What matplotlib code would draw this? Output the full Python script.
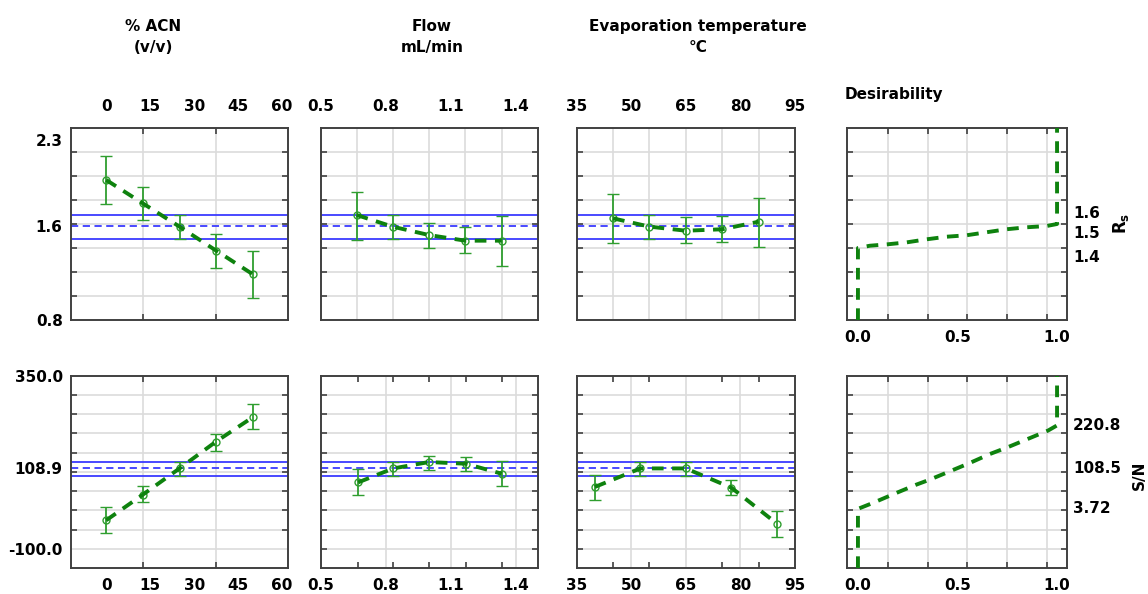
import matplotlib
matplotlib.use("Agg")
import matplotlib.pyplot as plt

plt.rcParams['font.family'] = ['DejaVu Sans']
plt.rcParams['font.weight'] = 'bold'
plt.rcParams['font.size'] = 11
plt.rcParams['mathtext.fontset'] = 'custom'
plt.rcParams['mathtext.rm'] = 'DejaVu Sans:bold'
plt.rcParams['mathtext.bf'] = 'DejaVu Sans:bold'

# factor levels
acn_x = [0, 12.5, 25, 37.5, 50]
flow_x_rs = [0.666, 0.832, 1.0, 1.168, 1.336]
flow_x_sn = [0.673, 0.835, 1.0, 1.17, 1.336]
temp_x_rs = [45, 55, 65, 75, 85]
temp_x_sn = [40, 52.5, 65, 77.5, 90]

# Rs profiles (mean, lower, upper)
rs_acn = [1.967, 1.772, 1.578, 1.378, 1.181]
rs_acn_lo = [1.767, 1.633, 1.472, 1.236, 0.981]
rs_acn_hi = [2.167, 1.911, 1.675, 1.514, 1.378]
rs_flow = [1.675, 1.578, 1.508, 1.461, 1.461]
rs_flow_lo = [1.467, 1.472, 1.403, 1.361, 1.25]
rs_flow_hi = [1.869, 1.675, 1.611, 1.578, 1.667]
rs_temp = [1.647, 1.578, 1.544, 1.556, 1.619]
rs_temp_lo = [1.444, 1.472, 1.444, 1.453, 1.411]
rs_temp_hi = [1.85, 1.675, 1.656, 1.667, 1.819]

# S/N profiles (mean, lower, upper)
sn_acn = [-25.9, 40.7, 108.9, 178.9, 242.1]
sn_acn_lo = [-58.5, 20.8, 90, 154.8, 211]
sn_acn_hi = [7.8, 64.1, 124.5, 198.9, 275.8]
sn_flow = [72.6, 108.9, 125.5, 121.1, 95.2]
sn_flow_lo = [40.7, 90, 105.5, 101.1, 62.3]
sn_flow_hi = [107.4, 124.5, 140, 137.4, 128.9]
sn_temp = [60.7, 108.9, 108.9, 58.9, -34.4]
sn_temp_lo = [27.8, 90, 90, 40.7, -68.9]
sn_temp_hi = [92.6, 124.5, 124.5, 77.8, -2.5]

# predicted value at current settings and its interval
rs_pred, rs_pred_lo, rs_pred_hi = 1.58, 1.475, 1.675
sn_pred, sn_pred_lo, sn_pred_hi = 108.9, 90, 125.5

# desirability functions
d_rs = [0, 0, 0.06, 0.15, 0.245, 0.345, 0.445, 0.545, 0.645, 0.745, 0.846, 0.947, 1.0, 1.0]
rs_d = [0.8, 1.4, 1.419, 1.431, 1.447, 1.4725, 1.494, 1.506, 1.531, 1.556, 1.5725, 1.583, 1.6, 2.4]
d_sn = [0, 0, 0.075, 0.193, 0.293, 0.36, 0.469, 0.561, 0.662, 0.754, 0.863, 0.955, 1.0, 1.0]
sn_d = [-150, 3.72, 19.2, 45.2, 66.7, 79.6, 103, 122.9, 146.2, 164.4, 187.7, 207.4, 220.8, 350]
rs_d_labels = ['1.6', '1.5', '1.4']
rs_d_values = [1.6, 1.5, 1.4]
sn_d_labels = ['220.8', '108.5', '3.72']
sn_d_values = [220.8, 108.5, 3.72]

headers = ['% ACN\n(v/v)', 'Flow\nmL/min', 'Evaporation temperature\n°C']

W, H = 1148, 594
fig = plt.figure(figsize=(W / 100, H / 100), dpi=100)

cols = [(71, 288), (320.7, 538.3), (576.7, 795), (847, 1067)]
rows = [(128, 320), (375.7, 568)]

GREEN = '#2f9e2f'
DKGREEN = '#0e820e'
BLUE = '#3a3aff'
GRID = '#dcdcdc'
SPINE = '#404040'
DASH = (0, (3, 2.2))


def make_ax(c, r):
    x0, x1 = cols[c]
    y0, y1 = rows[r]
    return fig.add_axes([x0 / W, 1 - y1 / H, (x1 - x0) / W, (y1 - y0) / H])


def frame(ax, xlim, ylim, xgrid, xmarks, ygrid):
    ax.set_xlim(xlim)
    ax.set_ylim(ylim)
    for g in xgrid:
        ax.axvline(g, color=GRID, lw=1.2, zorder=0)
    for g in ygrid:
        ax.axhline(g, color=GRID, lw=1.2, zorder=0)
    ax.set_xticks(xmarks, minor=True)
    ax.set_yticks(ygrid, minor=True)
    ax.tick_params(which='minor', direction='in', length=4, width=1.2, color=SPINE,
                   top=True, bottom=True, left=True, right=True)
    ax.tick_params(which='major', length=0, labelsize=11)
    for s in ax.spines.values():
        s.set_color(SPINE)
        s.set_linewidth(1.4)


def profile(ax, x, m, lo, hi, pred, plo, phi):
    for v in (plo, phi):
        ax.axhline(v, color=BLUE, lw=1.3, zorder=1)
    ax.axhline(pred, color=BLUE, lw=1.3, ls=(0, (4, 2.5)), zorder=1)
    yerr = [[a - b for a, b in zip(m, lo)], [b - a for a, b in zip(m, hi)]]
    ax.errorbar(x, m, yerr=yerr, fmt='o', mfc='none', mec=GREEN, ms=5, mew=1,
                ecolor=GREEN, elinewidth=1.3, capsize=4, capthick=1.3, zorder=3)
    ax.plot(x, m, color=DKGREEN, lw=2.8, ls=DASH, zorder=4)


rs_grid = [1.0, 1.2, 1.4, 1.6, 1.8, 2.0, 2.2]
sn_grid = [-100, -50, 0, 50, 100, 150, 200, 250, 300]
rs_lim = (0.8, 2.4)
sn_lim = (-150, 350)

panels = [
    # (col, row, xlim, xgrid, xmarks, xticks, x, mean, lo, hi)
    (0, 0, (-12, 62), [12.5, 37.5], [12.5, 37.5], [0, 15, 30, 45, 60],
     acn_x, rs_acn, rs_acn_lo, rs_acn_hi),
    (1, 0, (0.5, 1.505), flow_x_rs, [0.8, 1.1, 1.4], [0.5, 0.8, 1.1, 1.4],
     flow_x_rs, rs_flow, rs_flow_lo, rs_flow_hi),
    (2, 0, (35, 95), temp_x_rs, [50, 65, 80], [35, 50, 65, 80, 95],
     temp_x_rs, rs_temp, rs_temp_lo, rs_temp_hi),
    (0, 1, (-12, 62), [12.5, 37.5], [12.5, 37.5], [0, 15, 30, 45, 60],
     acn_x, sn_acn, sn_acn_lo, sn_acn_hi),
    (1, 1, (0.5, 1.505), [0.8, 1.1, 1.4], flow_x_sn, [0.5, 0.8, 1.1, 1.4],
     flow_x_sn, sn_flow, sn_flow_lo, sn_flow_hi),
    (2, 1, (35, 95), [50, 65, 80], temp_x_rs, [35, 50, 65, 80, 95],
     temp_x_sn, sn_temp, sn_temp_lo, sn_temp_hi),
]

for c, r, xlim, xgrid, xmarks, xticks, x, m, lo, hi in panels:
    ax = make_ax(c, r)
    ylim, ygrid = (rs_lim, rs_grid) if r == 0 else (sn_lim, sn_grid)
    frame(ax, xlim, ylim, xgrid, xmarks, ygrid)
    if r == 0:
        profile(ax, x, m, lo, hi, rs_pred, rs_pred_lo, rs_pred_hi)
    else:
        profile(ax, x, m, lo, hi, sn_pred, sn_pred_lo, sn_pred_hi)
    ax.set_xticks(xticks)
    ax.set_xticklabels([f'{t:g}' for t in xticks])
    if r == 0:
        ax.tick_params(which='major', labeltop=True, labelbottom=False, pad=10)
    else:
        ax.tick_params(which='major', pad=7)
    if c == 0:
        if r == 0:
            ax.set_yticks([0.8, rs_pred, 2.3])
            ax.set_yticklabels(['0.8', f'{rs_pred:.1f}', '2.3'])
        else:
            ax.set_yticks([-100, sn_pred, 350])
            ax.set_yticklabels(['-100.0', f'{sn_pred:.1f}', '350.0'])
        ax.tick_params(axis='y', which='major', pad=6)
    else:
        ax.set_yticks([])

# desirability panels
d_grid = [0.15, 0.35, 0.55, 0.75, 0.95]
for r, d, y, ylim, ygrid, labels, values, offsets in [
        (0, d_rs, rs_d, rs_lim, rs_grid, rs_d_labels, rs_d_values, [11, 2, -10]),
        (1, d_sn, sn_d, sn_lim, sn_grid, sn_d_labels, sn_d_values, [0, 0, 0])]:
    ax = make_ax(3, r)
    frame(ax, (-0.055, 1.05), ylim, d_grid, d_grid, ygrid)
    ax.plot(d, y, color=DKGREEN, lw=2.8, ls=DASH, zorder=4)
    ax.set_xticks([0, 0.5, 1.0])
    ax.set_xticklabels(['0.0', '0.5', '1.0'])
    ax.tick_params(which='major', pad=7)
    ax.set_yticks([])
    for lab, v, off in zip(labels, values, offsets):
        ax.annotate(lab, xy=(1, v), xycoords=('axes fraction', 'data'),
                    xytext=(6, off), textcoords='offset pixels',
                    ha='left', va='center', fontsize=11, fontweight='bold')

# column headers and response names
for txt, xc in zip(headers, [153, 432, 698]):
    fig.text(xc / W, 1 - 37 / H, txt, ha='center', va='center',
             fontsize=11, fontweight='bold', linespacing=1.45)
fig.text(845 / W, 1 - 95 / H, 'Desirability', ha='left', va='center',
         fontsize=11, fontweight='bold')
fig.text(1121 / W, 1 - 223 / H, r'R$_{\mathbf{s}}$', rotation=90,
         ha='center', va='center', fontsize=12, fontweight='bold')
fig.text(1139 / W, 1 - 475 / H, 'S/N', rotation=90,
         ha='center', va='center', fontsize=11, fontweight='bold')

fig.savefig('out.png', dpi=100)
